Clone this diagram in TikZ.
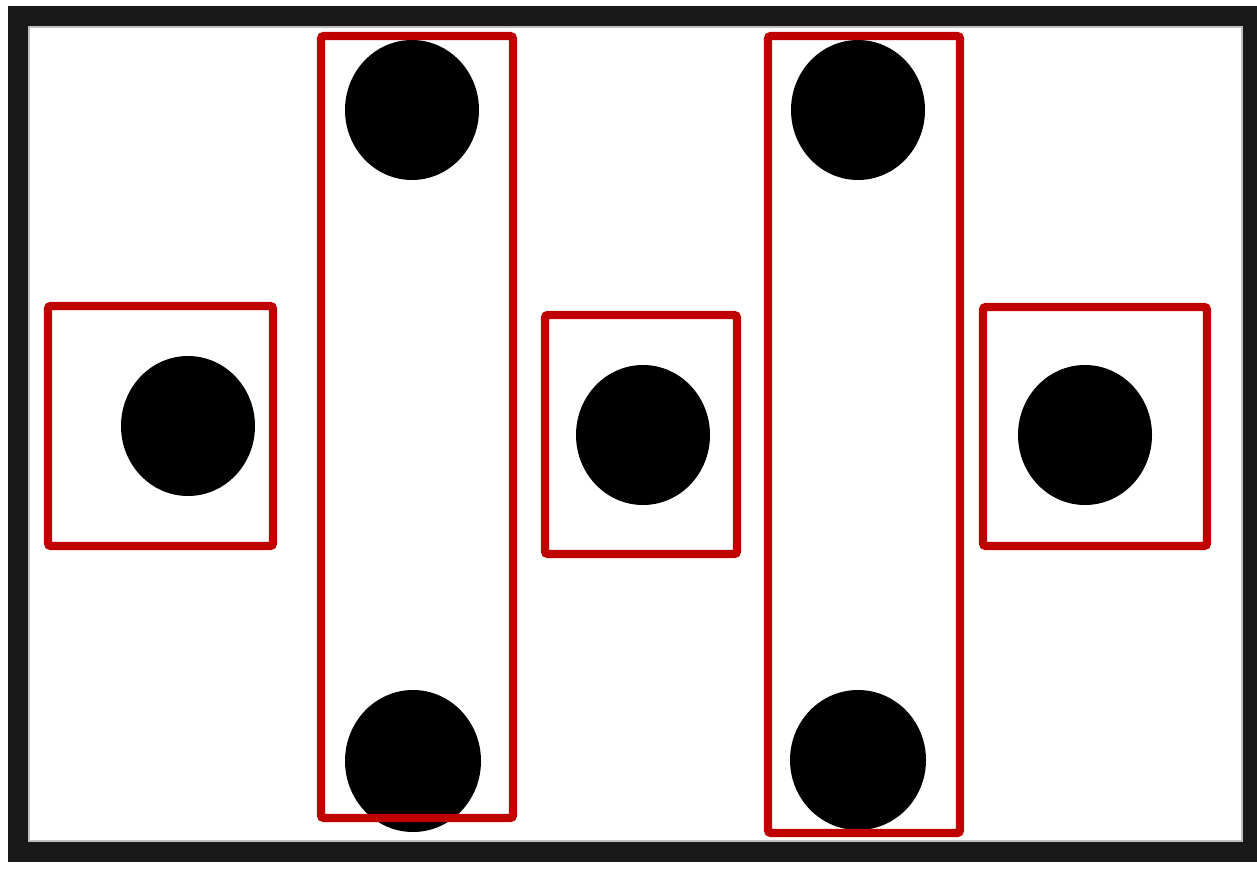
\documentclass[tikz,border=0pt]{standalone}
\begin{document}
\begin{tikzpicture}[x=0.02cm,y=-0.02cm,
  frame/.style={draw=black!90,line width=11.3pt},
  innerline/.style={draw=black!25,line width=0.8pt},
  dot/.style={fill=black},
  redbox/.style={draw={rgb,255:red,192;green,0;blue,0},line width=4.6pt,rounded corners=1.5pt}]
\useasboundingbox (0,0) rectangle (1257,875);
\fill[white] (0,0) rectangle (1257,875);
\draw[frame] (18,16) rectangle (1251,852);
\draw[innerline] (29,27) rectangle (1242,841);
% dots
\fill[dot] (412,110) ellipse [x radius=67, y radius=70];
\fill[dot] (413,761) ellipse [x radius=68, y radius=71];
\fill[dot] (858,110) ellipse [x radius=67, y radius=70];
\fill[dot] (858,760) ellipse [x radius=68, y radius=70];
\fill[dot] (188,426) ellipse [x radius=67, y radius=70];
\fill[dot] (643,435) ellipse [x radius=67, y radius=70];
\fill[dot] (1085,435) ellipse [x radius=67, y radius=70];
% red boxes
\draw[redbox] (48,306) rectangle (273,546);
\draw[redbox] (321,36) rectangle (513,818);
\draw[redbox] (545,315) rectangle (737,554);
\draw[redbox] (768,36) rectangle (960,833);
\draw[redbox] (983,307) rectangle (1207,546);
\end{tikzpicture}
\end{document}
